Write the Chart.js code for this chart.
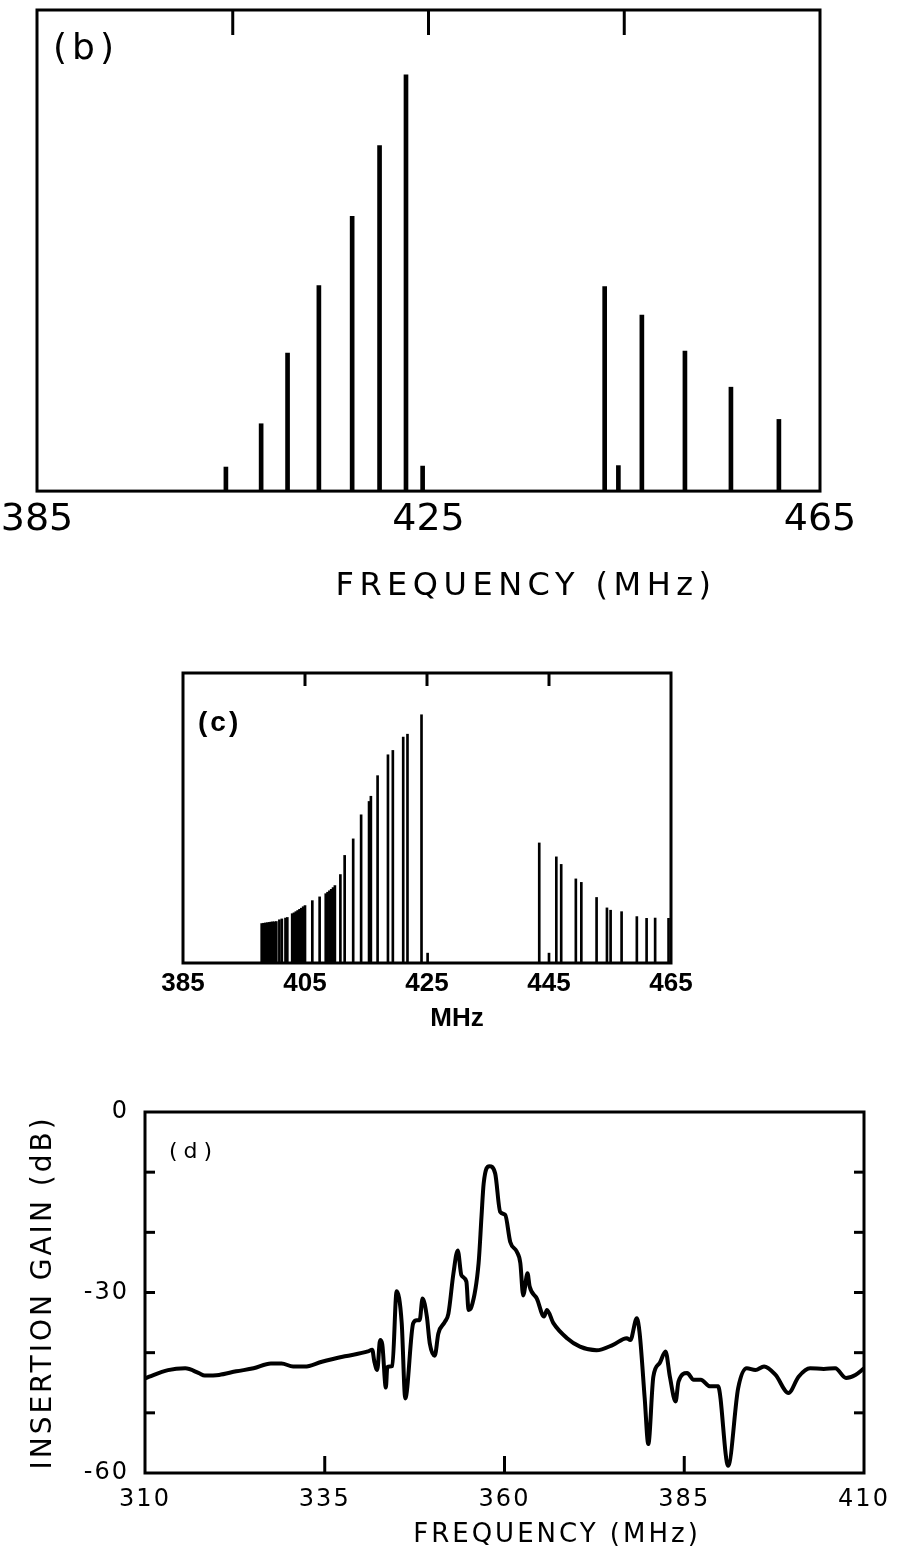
<!DOCTYPE html>
<html><head><meta charset="utf-8">
<script src="https://cdn.jsdelivr.net/npm/chart.js@4.4.1/dist/chart.umd.min.js"></script>
<style>
html,body{margin:0;padding:0;background:#fff;}
#page{position:relative;width:897px;height:1551px;background:#fff;overflow:hidden;}
canvas{position:absolute;left:0;}
</style></head><body>
<div id="page">
<canvas id="cb" width="897" height="620" style="top:0px;width:897px;height:620px"></canvas>
<canvas id="cc" width="897" height="400" style="top:640px;width:897px;height:400px"></canvas>
<canvas id="cd" width="897" height="491" style="top:1060px;width:897px;height:491px"></canvas>
</div>
<script>
// ---------- Panel (b) ----------
const freqB = [404.3, 407.9, 410.6, 413.8, 417.2, 420.0, 422.7, 424.4, 443.0, 444.4, 446.8, 451.2, 455.9, 460.8];
const ampB  = [0.05, 0.14, 0.287, 0.427, 0.571, 0.718, 0.865, 0.052, 0.425, 0.053, 0.366, 0.291, 0.216, 0.149];
const ticksB = [385, 425, 465];
const topTicksB = [405, 425, 445];

// ---------- Panel (c) ----------
const freqC = [397.9,398.2,398.5,398.8,399.1,399.4,399.7,400.0,400.3,
  400.8,401.2,401.8,402.1,
  402.9,403.2,403.5,403.8,404.1,404.4,404.7,405.0,
  406.2,407.4,
  408.4,408.7,409.0,409.3,409.6,409.9,
  410.8,411.5,412.9,414.2,415.5,415.8,416.9,418.6,419.4,421.1,421.8,424.1,425.1,
  443.4,445.0,446.2,447.0,449.4,450.3,452.8,454.5,455.1,456.9,459.4,461.0,462.4,464.6];
const ampC = [0.136,0.137,0.138,0.139,0.140,0.141,0.142,0.142,0.143,
  0.149,0.152,0.155,0.157,
  0.170,0.173,0.177,0.181,0.185,0.189,0.194,0.198,
  0.215,0.228,
  0.239,0.244,0.249,0.254,0.260,0.267,
  0.305,0.371,0.428,0.511,0.557,0.575,0.646,0.718,0.733,0.779,0.789,0.856,0.034,
  0.414,0.034,0.366,0.340,0.290,0.278,0.226,0.190,0.182,0.177,0.160,0.154,0.155,0.154];
const ticksC = [385, 405, 425, 445, 465];
const topTicksC = [405, 425, 445];

// ---------- Panel (d) ----------
const freqD = [310.0,310.6,313.2,315.6,317.5,318.3,320.3,322.7,325.1,327.5,329.0,330.6,332.2,334.6,337.8,341.0,341.6,341.9,342.3,342.7,343.0,343.5,343.7,344.4,345.0,345.7,346.2,347.3,347.8,348.2,348.6,349.2,349.6,350.3,350.8,351.7,352.2,352.9,353.5,354.0,354.7,355.0,355.4,356.4,356.8,357.1,357.9,358.7,359.4,360.1,360.8,361.7,362.2,362.6,363.2,363.5,364.5,365.5,365.9,366.8,368.7,370.5,372.8,375.1,377.0,377.5,378.4,378.8,379.5,380.0,380.7,381.6,382.4,383.0,383.8,384.2,385.4,386.3,387.3,388.6,389.7,391.1,392.5,393.7,394.9,396.1,397.7,399.5,400.9,402.5,404.4,406.0,407.5,408.8,410.0];
const gainD = [-44.3,-44.0,-42.9,-42.6,-43.4,-43.8,-43.7,-43.1,-42.6,-41.8,-41.8,-42.3,-42.3,-41.5,-40.6,-39.8,-39.5,-41.5,-42.9,-37.9,-38.6,-45.8,-42.4,-42.2,-29.8,-35.0,-47.6,-35.1,-34.6,-34.6,-31.0,-34.0,-38.4,-40.5,-36.8,-34.9,-33.5,-26.8,-23.0,-27.1,-28.2,-32.9,-32.4,-25.1,-17.4,-11.9,-9.0,-10.2,-16.6,-17.1,-21.6,-23.2,-25.1,-30.5,-26.8,-29.0,-31.0,-34.0,-32.9,-35.1,-37.6,-39.0,-39.6,-38.7,-37.6,-37.9,-34.3,-36.8,-47.6,-55.2,-44.0,-41.7,-39.8,-44.0,-48.1,-44.8,-43.4,-44.5,-44.5,-45.6,-45.6,-58.8,-45.9,-42.6,-42.9,-42.3,-43.7,-46.7,-44.0,-42.6,-42.7,-42.6,-44.2,-43.7,-42.6];
const ticksDx = [310, 335, 360, 385, 410];
const ticksDy = [0, -30, -60];
const innerTicksDx = [335, 360, 385];
const innerTicksDy = [-10, -20, -30, -40, -50];

Chart.defaults.color = '#000';
Chart.defaults.animation = false;

const framePlugin = {
  id: 'frame',
  beforeDraw(chart, args, opts) { chart.ctx.letterSpacing = opts.titleSpacing || '0px'; },
  afterDatasetsDraw(chart, args, opts) { chart.ctx.letterSpacing = opts.tickSpacing || '0px'; },
  afterLayout(chart, args, opts) {
    const t = chart.titleBlock;
    if (t && opts.titleCenterX != null) {
      const w = t.right - t.left;
      t.left = opts.titleCenterX - w / 2;
      t.right = t.left + w;
    }
  },
  afterDraw(chart, args, opts) {
    const ctx = chart.ctx, a = chart.chartArea;
    ctx.save();
    ctx.letterSpacing = '0px';
    ctx.strokeStyle = '#000';
    ctx.lineWidth = opts.lineWidth;
    ctx.strokeRect(a.left, a.top, a.right - a.left, a.bottom - a.top);
    for (const m of (opts.marks || [])) {
      const s = chart.scales[m.scale];
      for (const v of m.values) {
        const p = s.getPixelForValue(v);
        ctx.beginPath();
        if (m.side === 'top') { ctx.moveTo(p, a.top); ctx.lineTo(p, a.top + m.len); }
        else if (m.side === 'bottom') { ctx.moveTo(p, a.bottom); ctx.lineTo(p, a.bottom - m.len); }
        else if (m.side === 'left') { ctx.moveTo(a.left, p); ctx.lineTo(a.left + m.len, p); }
        else { ctx.moveTo(a.right, p); ctx.lineTo(a.right - m.len, p); }
        ctx.lineWidth = m.width || opts.lineWidth;
        ctx.stroke();
      }
    }
    if (opts.label) {
      const L = opts.label;
      ctx.font = L.font;
      ctx.letterSpacing = L.spacing || '0px';
      ctx.textBaseline = 'middle';
      ctx.textAlign = 'left';
      ctx.fillStyle = '#000';
      ctx.fillText(L.text, a.left + L.dx, a.top + L.dy);
    }
    ctx.restore();
    ctx.letterSpacing = '0px';
  }
};

function fixedTicks(arr) { return (s) => { s.ticks = arr.map(v => ({ value: v })); }; }
function fitH(h) { return (s) => { s.height = h; s.paddingLeft = 0; s.paddingRight = 0; }; }

// ---------- Chart (b) ----------
new Chart(document.getElementById('cb'), {
  type: 'bar',
  data: { datasets: [{ data: freqB.map((f, i) => ({ x: f, y: ampB[i] })), backgroundColor: '#000', borderWidth: 0, barThickness: 4 }] },
  plugins: [framePlugin],
  options: {
    responsive: false, events: [],
    layout: { padding: { left: 37, right: 77, top: 10, bottom: 0 } },
    scales: {
      x: { type: 'linear', min: 385, max: 465, offset: false,
        grid: { display: false, drawTicks: false, offset: false }, border: { display: false },
        ticks: { font: { family: 'DejaVu Sans', size: 38, lineHeight: 1.2 }, padding: 6, z: 1, maxRotation: 0, autoSkip: false },
        afterBuildTicks: fixedTicks(ticksB),
        afterFit: fitH(76.5) },
      y: { type: 'linear', min: 0, max: 1, display: false }
    },
    plugins: {
      legend: { display: false }, tooltip: { enabled: false },
      title: { display: true, position: 'bottom', text: 'FREQUENCY (MHz)',
        font: { family: 'DejaVu Sans', size: 32, weight: 'normal', lineHeight: 1.2 }, padding: { top: 0, bottom: 14 } },
      frame: { lineWidth: 3, titleSpacing: '5.5px', tickSpacing: '0px', titleCenterX: 526,
        marks: [{ scale: 'x', values: topTicksB, side: 'top', len: 25 }],
        label: { text: '(b)', font: '36px "DejaVu Sans"', spacing: '5px', dx: 16, dy: 40 } }
    }
  }
});

// ---------- Chart (c) ----------
new Chart(document.getElementById('cc'), {
  type: 'bar',
  data: { datasets: [{ data: freqC.map((f, i) => ({ x: f, y: ampC[i] })), backgroundColor: '#000', borderWidth: 0, barThickness: 2 }] },
  plugins: [framePlugin],
  options: {
    responsive: false, events: [],
    layout: { padding: { left: 183, right: 226, top: 33, bottom: 0 } },
    scales: {
      x: { type: 'linear', min: 385, max: 465, offset: false,
        grid: { display: false, drawTicks: false, offset: false }, border: { display: false },
        ticks: { font: { family: 'Liberation Sans', size: 26, weight: 'bold', lineHeight: 1.2 }, padding: 5.4, z: 1, maxRotation: 0, autoSkip: false },
        afterBuildTicks: fixedTicks(ticksC),
        afterFit: fitH(39.8) },
      y: { type: 'linear', min: 0, max: 1, display: false }
    },
    plugins: {
      legend: { display: false }, tooltip: { enabled: false },
      title: { display: true, position: 'bottom', text: 'MHz',
        font: { family: 'Liberation Sans', size: 26, weight: 'bold', lineHeight: 1.2 }, padding: { top: 0, bottom: 6 } },
      frame: { lineWidth: 3, titleSpacing: '0px', tickSpacing: '0px', titleCenterX: 457,
        marks: [{ scale: 'x', values: topTicksC, side: 'top', len: 13 }],
        label: { text: '(c)', font: 'bold 28px "Liberation Sans"', spacing: '3px', dx: 15, dy: 50 } }
    }
  }
});

// ---------- Chart (d) ----------
new Chart(document.getElementById('cd'), {
  type: 'line',
  data: { datasets: [{ data: freqD.map((f, i) => ({ x: f, y: gainD[i] })), borderColor: '#000', borderWidth: 4, pointRadius: 0, fill: false, cubicInterpolationMode: 'monotone' }] },
  plugins: [framePlugin],
  options: {
    responsive: false, events: [],
    layout: { padding: { left: 27, right: 33, top: 52, bottom: 0 } },
    scales: {
      x: { type: 'linear', min: 310, max: 410,
        grid: { display: false, drawTicks: false }, border: { display: false },
        ticks: { font: { family: 'DejaVu Sans', size: 24, lineHeight: 1.2 }, padding: 12.6, z: 1, maxRotation: 0, autoSkip: false },
        afterBuildTicks: fixedTicks(ticksDx),
        afterFit: fitH(46.8) },
      y: { type: 'linear', min: -60, max: 0, position: 'left',
        grid: { display: false, drawTicks: false }, border: { display: false },
        ticks: { font: { family: 'DejaVu Sans', size: 24, lineHeight: 1.2 }, padding: 16, z: 1, autoSkip: false },
        afterBuildTicks: fixedTicks(ticksDy),
        afterFit: (s) => { s.width = 84.4; } }
    },
    plugins: {
      legend: { display: false }, tooltip: { enabled: false },
      title: { display: true, position: 'bottom', text: 'FREQUENCY (MHz)',
        font: { family: 'DejaVu Sans', size: 26, weight: 'normal', lineHeight: 1.2 }, padding: { top: 0, bottom: 0 } },
      subtitle: { display: true, position: 'left', fullSize: false, text: 'INSERTION GAIN (dB)',
        font: { family: 'DejaVu Sans', size: 28, weight: 'normal', lineHeight: 1.2 }, padding: { top: 0, bottom: 0 } },
      frame: { lineWidth: 3, titleSpacing: '3px', tickSpacing: '2px', titleCenterX: 557,
        marks: [
          { scale: 'x', values: innerTicksDx, side: 'bottom', len: 17 },
          { scale: 'y', values: innerTicksDy, side: 'left', len: 10 },
          { scale: 'y', values: innerTicksDy, side: 'right', len: 10 }
        ],
        label: { text: '(d)', font: '22px "DejaVu Sans"', spacing: '6px', dx: 24, dy: 40 } }
    }
  }
});
</script>
</body></html>
